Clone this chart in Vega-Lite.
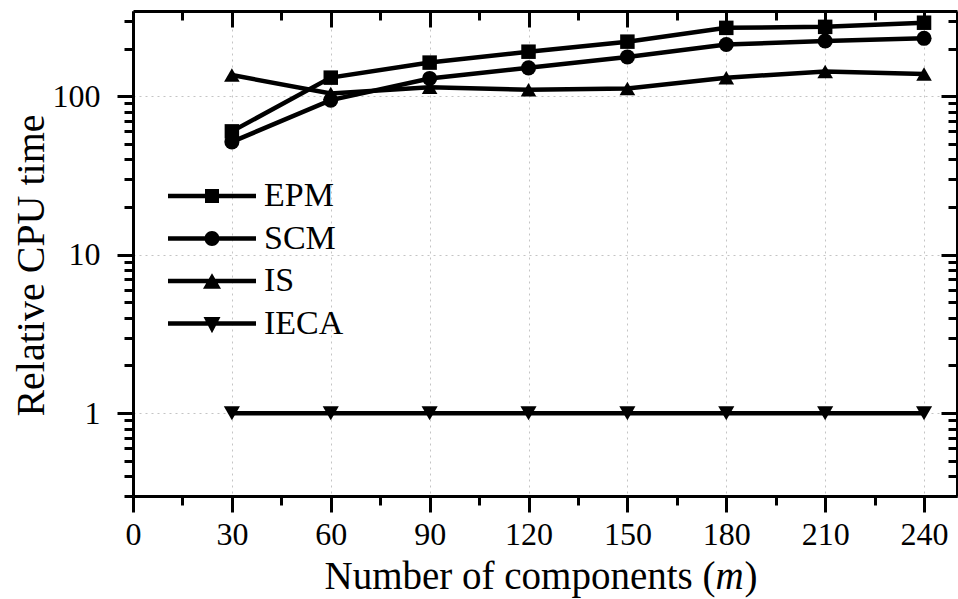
{
  "$schema": "https://vega.github.io/schema/vega-lite/v6.json",
  "width": 824,
  "height": 485,
  "autosize": {"type": "none"},
  "padding": {"left": 133, "top": 11, "right": 1, "bottom": 103},
  "background": "white",
  "config": {
    "font": "Liberation Serif",
    "view": {"stroke": null}
  },
  "data": {
    "values": [
      {"m": 30, "series": "EPM", "time": 60},
      {"m": 60, "series": "EPM", "time": 131},
      {"m": 90, "series": "EPM", "time": 163},
      {"m": 120, "series": "EPM", "time": 191},
      {"m": 150, "series": "EPM", "time": 221},
      {"m": 180, "series": "EPM", "time": 270},
      {"m": 210, "series": "EPM", "time": 274},
      {"m": 240, "series": "EPM", "time": 291},
      {"m": 30, "series": "SCM", "time": 51.5},
      {"m": 60, "series": "SCM", "time": 94.5},
      {"m": 90, "series": "SCM", "time": 129.5},
      {"m": 120, "series": "SCM", "time": 151},
      {"m": 150, "series": "SCM", "time": 177},
      {"m": 180, "series": "SCM", "time": 212},
      {"m": 210, "series": "SCM", "time": 223},
      {"m": 240, "series": "SCM", "time": 232},
      {"m": 30, "series": "IS", "time": 136},
      {"m": 60, "series": "IS", "time": 104},
      {"m": 90, "series": "IS", "time": 114},
      {"m": 120, "series": "IS", "time": 110},
      {"m": 150, "series": "IS", "time": 112},
      {"m": 180, "series": "IS", "time": 131},
      {"m": 210, "series": "IS", "time": 143},
      {"m": 240, "series": "IS", "time": 138},
      {"m": 30, "series": "IECA", "time": 1},
      {"m": 60, "series": "IECA", "time": 1},
      {"m": 90, "series": "IECA", "time": 1},
      {"m": 120, "series": "IECA", "time": 1},
      {"m": 150, "series": "IECA", "time": 1},
      {"m": 180, "series": "IECA", "time": 1},
      {"m": 210, "series": "IECA", "time": 1},
      {"m": 240, "series": "IECA", "time": 1}
    ]
  },
  "resolve": {
    "axis": {"x": "independent", "y": "independent"},
    "scale": {"shape": "independent"}
  },
  "layer": [
    {
      "mark": {"type": "line", "color": "black", "strokeWidth": 4.5},
      "encoding": {
        "x": {
          "field": "m",
          "type": "quantitative",
          "scale": {"domain": [0, 250], "nice": false, "zero": false},
          "axis": {
            "orient": "bottom",
            "values": [0, 15, 30, 45, 60, 75, 90, 105, 120, 135, 150, 165, 180, 195, 210, 225, 240],
            "tickSize": {"condition": {"test": "datum.value % 30 === 0", "value": 16}, "value": 9},
            "tickWidth": 3,
            "tickColor": "black",
            "domainWidth": 3,
            "domainColor": "black",
            "labelExpr": "datum.value % 30 === 0 ? datum.label : ''",
            "labelFont": "Liberation Serif",
            "labelFontSize": 32,
            "labelColor": "black",
            "labelBaseline": "alphabetic",
            "labelPadding": 32,
            "labelFlush": false,
            "labelOverlap": false,
            "grid": true,
            "gridColor": "#c4c4c4",
            "gridDash": [2, 4],
            "gridWidth": 1,
            "gridOpacity": {"condition": {"test": "datum.value % 30 === 0 && datum.value > 0", "value": 1}, "value": 0},
            "title": "Number of components (",
            "titleFont": "Liberation Serif",
            "titleFontSize": 39,
            "titleFontWeight": "normal",
            "titleColor": "black",
            "titleX": 191,
            "titleY": 92,
            "titleAlign": "left",
            "titleBaseline": "alphabetic"
          }
        },
        "y": {
          "field": "time",
          "type": "quantitative",
          "scale": {"type": "log", "domain": [0.3, 345], "nice": false},
          "axis": {
            "orient": "left",
            "values": [0.3, 0.4, 0.5, 0.6, 0.7, 0.8, 0.9, 1, 2, 3, 4, 5, 6, 7, 8, 9, 10, 20, 30, 40, 50, 60, 70, 80, 90, 100, 200, 300],
            "format": "~g",
            "tickSize": {"condition": {"test": "datum.value === 1 || datum.value === 10 || datum.value === 100", "value": 16}, "value": 9},
            "tickWidth": 3,
            "tickColor": "black",
            "domainWidth": 3,
            "domainColor": "black",
            "labelExpr": "datum.value === 1 || datum.value === 10 || datum.value === 100 ? datum.label : ''",
            "labelFont": "Liberation Serif",
            "labelFontSize": 32,
            "labelColor": "black",
            "labelBaseline": "middle",
            "labelPadding": 17,
            "labelFlush": false,
            "labelOverlap": false,
            "grid": true,
            "gridColor": "#c4c4c4",
            "gridDash": [2, 4],
            "gridWidth": 1,
            "gridOpacity": {"condition": {"test": "datum.value === 1 || datum.value === 10 || datum.value === 100", "value": 1}, "value": 0},
            "title": "Relative CPU time",
            "titleFont": "Liberation Serif",
            "titleFontSize": 40,
            "titleFontWeight": "normal",
            "titleColor": "black",
            "titleAngle": -90,
            "titleX": -90,
            "titleY": 254,
            "titleAlign": "center",
            "titleBaseline": "alphabetic"
          }
        },
        "detail": {"field": "series"}
      }
    },
    {
      "mark": {"type": "point", "filled": true, "color": "black", "opacity": 1},
      "encoding": {
        "x": {
          "field": "m",
          "type": "quantitative",
          "axis": {
            "orient": "top",
            "values": [0, 15, 30, 45, 60, 75, 90, 105, 120, 135, 150, 165, 180, 195, 210, 225, 240],
            "tickSize": {"condition": {"test": "datum.value % 30 === 0", "value": -16}, "value": -9},
            "tickWidth": 3,
            "tickColor": "black",
            "domainWidth": 3,
            "domainColor": "black",
            "labels": false,
            "grid": false,
            "title": "m",
            "titleFont": "Liberation Serif",
            "titleFontSize": 39,
            "titleFontWeight": "normal",
            "titleFontStyle": "italic",
            "titleColor": "black",
            "titleX": 582,
            "titleY": 577,
            "titleAlign": "left",
            "titleBaseline": "alphabetic"
          }
        },
        "y": {
          "field": "time",
          "type": "quantitative",
          "axis": {
            "orient": "right",
            "values": [0.3, 0.4, 0.5, 0.6, 0.7, 0.8, 0.9, 1, 2, 3, 4, 5, 6, 7, 8, 9, 10, 20, 30, 40, 50, 60, 70, 80, 90, 100, 200, 300],
            "tickSize": {"condition": {"test": "datum.value === 1 || datum.value === 10 || datum.value === 100", "value": -16}, "value": -9},
            "tickWidth": 3,
            "tickColor": "black",
            "domainWidth": 3,
            "domainColor": "black",
            "labels": false,
            "grid": false,
            "title": ")",
            "titleFont": "Liberation Serif",
            "titleFontSize": 39,
            "titleFontWeight": "normal",
            "titleColor": "black",
            "titleAngle": 0,
            "titleX": -213,
            "titleY": 577,
            "titleAlign": "left",
            "titleBaseline": "alphabetic"
          }
        },
        "shape": {
          "field": "series",
          "type": "nominal",
          "scale": {"domain": ["EPM", "SCM", "IS", "IECA"], "range": ["square", "circle", "triangle-up", "triangle-down"]},
          "legend": null
        },
        "size": {
          "field": "series",
          "type": "nominal",
          "scale": {"domain": ["EPM", "SCM", "IS", "IECA"], "range": [210, 260, 400, 320]},
          "legend": null
        }
      }
    },
    {
      "transform": [{"filter": "false"}],
      "mark": {"type": "point", "filled": true, "color": "black", "opacity": 1, "size": 7744, "strokeWidth": 0},
      "encoding": {
        "x": {"field": "m", "type": "quantitative", "axis": null},
        "y": {"field": "time", "type": "quantitative", "axis": null},
        "shape": {
          "field": "series",
          "type": "nominal",
          "scale": {
            "domain": ["EPM", "SCM", "IS", "IECA"],
            "range": [
              "M-1,-0.051H1V0.051H-1Z M-0.159,-0.159H0.159V0.159H-0.159Z",
              "M-1,-0.051H1V0.051H-1Z M0.17,0A0.17,0.17,0,1,1,-0.17,0A0.17,0.17,0,1,1,0.17,0Z",
              "M-1,-0.051H1V0.051H-1Z M0,-0.177L0.205,0.177H-0.205Z",
              "M-1,-0.051H1V0.051H-1Z M-0.193,-0.15H0.193L0,0.22Z"
            ]
          },
          "legend": {
            "title": null,
            "orient": "none",
            "legendX": 35,
            "legendY": 168,
            "padding": 0,
            "symbolSize": 7744,
            "symbolFillColor": "black",
            "symbolStrokeWidth": 0,
            "symbolOpacity": 1,
            "clipHeight": 34,
            "rowPadding": 8.5,
            "labelFont": "Liberation Serif",
            "labelFontSize": 34,
            "labelColor": "black",
            "labelOffset": 8,
            "labelBaseline": "middle",
            "labelLimit": 300
          }
        }
      }
    }
  ]
}
